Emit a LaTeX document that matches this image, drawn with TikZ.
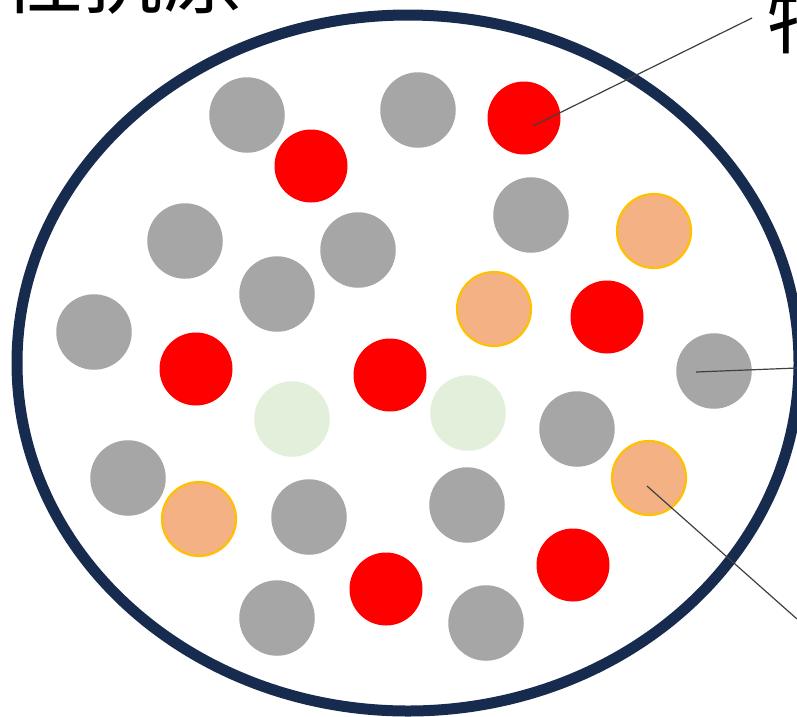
\documentclass[tikz,border=0pt]{standalone}
\usepackage{fontspec}
\newfontfamily\cjk{Noto Sans CJK SC}
\definecolor{navyring}{HTML}{172B4F}
\definecolor{dotgray}{HTML}{A6A6A6}
\definecolor{dotred}{HTML}{FF0000}
\definecolor{dotpeach}{HTML}{F4B183}
\definecolor{dotgold}{HTML}{FFC000}
\definecolor{dotgreen}{HTML}{E2EFDA}
\definecolor{leadgray}{HTML}{404040}
\tikzset{
  dotbase/.style={circle, inner sep=0pt, minimum size=75.5pt},
  graydot/.style={dotbase, fill=dotgray},
  reddot/.style={dotbase, fill=dotred, minimum size=73pt},
  peachdot/.style={dotbase, fill=dotpeach, draw=dotgold, line width=2.2pt, minimum size=74pt},
  greendot/.style={dotbase, fill=dotgreen},
  leader/.style={draw=leadgray, line width=1.2pt},
  bigtext/.style={inner sep=0pt, font=\cjk\fontsize{80}{90}\selectfont}
}
\begin{document}
\begin{tikzpicture}[x=1pt,y=-1pt]
\useasboundingbox (0,0) rectangle (797,716);
\fill[white] (0,0) rectangle (797,716);
\draw[navyring, line width=11pt] (408,363) ellipse [x radius=391pt, y radius=348pt];
% gray
\node[graydot] (g1) at (247,115) {};
\node[graydot] (g2) at (418,110) {};
\node[graydot] (g3) at (531,215) {};
\node[graydot] (g4) at (185,241) {};
\node[graydot] (g5) at (358,250) {};
\node[graydot] (g6) at (277,294) {};
\node[graydot] (g7) at (94,332) {};
\node[graydot] (g8) at (714,371) {};
\node[graydot] (g9) at (577,429) {};
\node[graydot] (g10) at (128,478) {};
\node[graydot] (g11) at (309,517) {};
\node[graydot] (g12) at (467,505) {};
\node[graydot] (g13) at (277,618) {};
\node[graydot] (g14) at (486,623) {};
% red
\node[reddot] (r1) at (311,166) {};
\node[reddot] (r2) at (524,118) {};
\node[reddot] (r3) at (196,369) {};
\node[reddot] (r4) at (390,375) {};
\node[reddot] (r5) at (607,317) {};
\node[reddot] (r6) at (386,589) {};
\node[reddot] (r7) at (573,565) {};
% peach
\node[peachdot] (p1) at (654,231) {};
\node[peachdot] (p2) at (494,309) {};
\node[peachdot] (p3) at (649,478) {};
\node[peachdot] (p4) at (199,519) {};
% green
\node[greendot] (n1) at (292,419) {};
\node[greendot] (n2) at (468,413) {};
% labels (mostly outside the visible frame)
\node[bigtext, anchor=base west] (tl) at (3,7) {性抗原};
\node[bigtext, anchor=base west] (tr) at (766,47) {特};
\coordinate (e1) at (752,18);
\coordinate (e2) at (797,368);
\coordinate (e3) at (797,619);
\draw[leader] (533,126) -- (e1);
\draw[leader] (696,372) -- (e2);
\draw[leader] (647,486) -- (e3);
\end{tikzpicture}
\end{document}
